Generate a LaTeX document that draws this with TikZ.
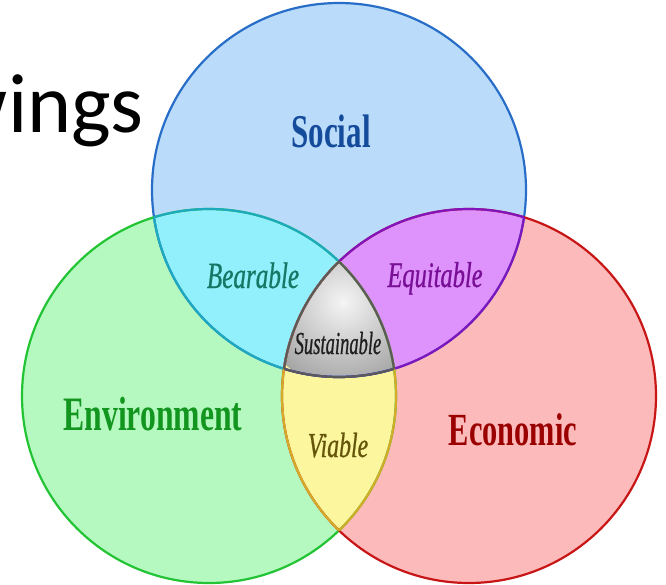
\documentclass[tikz,border=0pt]{standalone}
\usepackage{fontspec}
\newfontfamily\vennbold[FakeStretch=0.66]{Liberation Serif}
\newfontfamily\vennital[FakeStretch=0.68, FakeBold=0.6]{Liberation Serif}
\newfontfamily\vennsus[FakeStretch=0.58, FakeBold=0.6]{Liberation Serif}
\newfontfamily\calib{Carlito}
\definecolor{socfill}{RGB}{186,220,250}
\definecolor{socline}{RGB}{40,110,200}
\definecolor{soctext}{RGB}{20,75,155}
\definecolor{envfill}{RGB}{182,249,192}
\definecolor{envline}{RGB}{34,196,52}
\definecolor{envtext}{RGB}{18,150,32}
\definecolor{ecofill}{RGB}{252,186,186}
\definecolor{ecoline}{RGB}{200,22,22}
\definecolor{ecotext}{RGB}{155,0,0}
\definecolor{bearfill}{RGB}{146,240,252}
\definecolor{bearline}{RGB}{30,170,190}
\definecolor{beartext}{RGB}{20,120,100}
\definecolor{equifill}{RGB}{222,146,252}
\definecolor{equiline}{RGB}{130,20,190}
\definecolor{equitext}{RGB}{120,15,150}
\definecolor{viafill}{RGB}{252,246,158}
\definecolor{vialine}{RGB}{212,172,40}
\definecolor{viatext}{RGB}{100,85,10}
\definecolor{susline}{RGB}{90,90,90}
\definecolor{susouter}{RGB}{165,165,165}
\tikzset{
  ring/.style={line width=2.2pt},
  boldlabel/.style={anchor=base, inner sep=0pt},
  itallabel/.style={anchor=base, inner sep=0pt}
}
\begin{document}
\begin{tikzpicture}[x=1pt,y=-1pt]
\useasboundingbox (0,0) rectangle (666,584);
\fill[white] (0,0) rectangle (666,584);
\coordinate (cs) at (339,190);
\coordinate (ce) at (209,396);
\coordinate (cr) at (469,396);
\def\pS{(cs) circle[radius=187pt]}
\def\pE{(ce) circle[radius=187pt]}
\def\pR{(cr) circle[radius=187pt]}
% fills
\fill[socfill] \pS;
\fill[envfill] \pE;
\fill[ecofill] \pR;
\begin{scope}\clip \pS; \fill[bearfill] \pE; \fill[equifill] \pR;\end{scope}
\begin{scope}\clip \pE; \fill[viafill] \pR;\end{scope}
\begin{scope}\clip \pS; \clip \pE; \clip \pR;
  \shade[inner color=white!96!black, outer color=susouter] (343,302) circle[radius=85pt];
\end{scope}
% outlines
\draw[ring, socline] \pS;
\draw[ring, envline] \pE;
\draw[ring, ecoline] \pR;
\begin{scope}\clip \pE; \draw[ring, bearline] \pS;\end{scope}
\begin{scope}\clip \pS; \draw[ring, bearline] \pE;\end{scope}
\begin{scope}\clip \pR; \draw[ring, equiline] \pS;\end{scope}
\begin{scope}\clip \pS; \draw[ring, equiline] \pR;\end{scope}
\begin{scope}\clip \pR; \draw[ring, vialine] \pE;\end{scope}
\begin{scope}\clip \pE; \draw[ring, vialine] \pR;\end{scope}
\begin{scope}\clip \pE; \clip \pR; \draw[ring, susline] \pS;\end{scope}
\begin{scope}\clip \pS; \clip \pR; \draw[ring, susline] \pE;\end{scope}
\begin{scope}\clip \pS; \clip \pE; \draw[ring, susline] \pR;\end{scope}
% title fragment
\node[anchor=base east, inner sep=0pt, font=\calib\fontsize{84}{84}\selectfont] (title) at (144,132) {wings};
% labels
\node[boldlabel, text=soctext, font=\vennbold\bfseries\fontsize{47}{47}\selectfont] (social) at (331,147) {Social};
\node[boldlabel, text=envtext, font=\vennbold\bfseries\fontsize{48}{48}\selectfont] (environment) at (153,430) {Environment};
\node[boldlabel, text=ecotext, font=\vennbold\bfseries\fontsize{46}{46}\selectfont] (economic) at (513,445) {Economic};
\node[itallabel, text=beartext, font=\vennital\itshape\fontsize{37}{37}\selectfont] (bearable) at (253,288) {Bearable};
\node[itallabel, text=equitext, font=\vennital\itshape\fontsize{36}{36}\selectfont] (equitable) at (435,287) {Equitable};
\node[itallabel, text=black!88, font=\vennsus\itshape\fontsize{32}{32}\selectfont] (sustainable) at (338,354) {Sustainable};
\node[itallabel, text=viatext, font=\vennital\itshape\fontsize{35}{35}\selectfont] (viable) at (338,457) {Viable};
\end{tikzpicture}
\end{document}
